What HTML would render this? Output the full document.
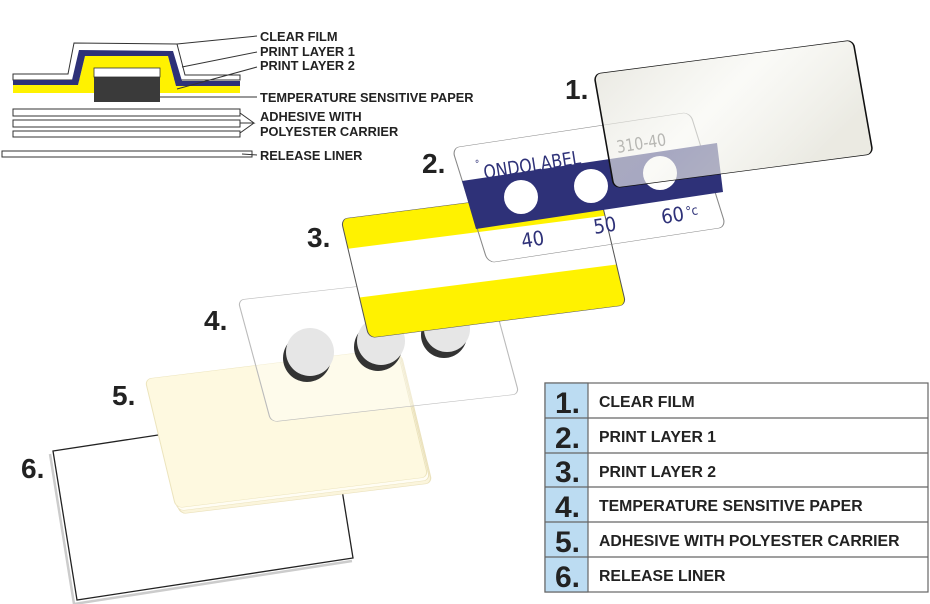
<!DOCTYPE html>
<html><head><meta charset="utf-8"><style>
html,body{margin:0;padding:0;background:#fff;width:930px;height:604px;overflow:hidden}
svg{display:block}
text{font-family:"Liberation Sans",Arial,sans-serif}
.lb{font-weight:bold;font-size:12.8px;fill:#222}
.num{font-weight:bold;font-size:28px;fill:#222}
.tn{font-weight:bold;font-size:30px;fill:#222}
.tl{font-weight:bold;font-size:15.8px;fill:#222}
.ol{font-family:"DejaVu Sans Condensed","Liberation Sans Narrow","Liberation Sans",sans-serif;fill:#2e3178}
</style></head><body>
<svg width="930" height="604" viewBox="0 0 930 604">
<defs>
<linearGradient id="g1" x1="0" y1="0" x2="1" y2="0.6">
<stop offset="0" stop-color="#e2e1d8" stop-opacity="0.7"/>
<stop offset="0.5" stop-color="#f7f7f2" stop-opacity="0.6"/>
<stop offset="1" stop-color="#e4e3d9" stop-opacity="0.75"/>
</linearGradient>
<clipPath id="c3" clipPathUnits="userSpaceOnUse"><rect x="0" y="0" width="100" height="100" rx="2.5" ry="6"/></clipPath>
</defs>
<!-- cross section -->
<path d="M13,74 L68,74 L74,43 L177,44 L185,75 L240,75 L240,80 L13,80 Z" fill="#fff" stroke="#333" stroke-width="1"/>
<path d="M13,85 L78,85 L85,56 L168,56 L176,86 L240,86 L240,93 L13,93 Z" fill="#fff200"/>
<path d="M13,80 L72,80 L79,50 L173,51 L182,81 L240,81 L240,86 L176,86 L168,56 L85,56 L78,85 L13,85 Z" fill="#2e3178"/>
<rect x="94" y="77" width="66" height="25" fill="#3a3a3a"/>
<rect x="94" y="68" width="66" height="9" fill="#fff" stroke="#333" stroke-width="0.8"/>
<rect x="13" y="109" width="227" height="7" fill="#fff" stroke="#333"/>
<rect x="13" y="120" width="227" height="7" fill="#fff" stroke="#333"/>
<rect x="13" y="131" width="227" height="6" fill="#fff" stroke="#333"/>
<rect x="2" y="151" width="250" height="6" fill="#fff" stroke="#333"/>
<g stroke="#333" stroke-width="1" fill="none">
<line x1="177" y1="44" x2="257" y2="36"/>
<line x1="182" y1="67" x2="257" y2="52"/>
<line x1="177" y1="89" x2="257" y2="67"/>
<line x1="160" y1="97" x2="257" y2="97"/>
<polyline points="240,113 254,123 240,123"/>
<polyline points="240,133 254,123"/>
<line x1="242" y1="154" x2="257" y2="155"/>
</g>
<text class="lb" x="260" y="41">CLEAR FILM</text>
<text class="lb" x="260" y="56">PRINT LAYER 1</text>
<text class="lb" x="260" y="70">PRINT LAYER 2</text>
<text class="lb" x="260" y="102">TEMPERATURE SENSITIVE PAPER</text>
<text class="lb" x="260" y="121">ADHESIVE WITH</text>
<text class="lb" x="260" y="136">POLYESTER CARRIER</text>
<text class="lb" x="260" y="160">RELEASE LINER</text>

<!-- card 6 -->
<polyline points="50,454 74,604 352,561" fill="none" stroke="#ccc" stroke-width="2.5"/>
<polygon points="53,451 329,409 353,558 77,600" fill="#fff" stroke="#222" stroke-width="1.3"/>
<!-- card 5 stack -->
<g transform="matrix(2.52,-0.31,0.31,1.29,149,385)"><rect width="100" height="100" rx="2.5" ry="5" fill="#fbf5dc" stroke="#ebe2bd" stroke-width="0.5"/></g>
<g transform="matrix(2.52,-0.31,0.31,1.29,147,382)"><rect width="100" height="100" rx="2.5" ry="5" fill="#fffdf3" stroke="#ebe2bd" stroke-width="0.4"/></g>
<g transform="matrix(2.52,-0.31,0.31,1.29,145,379)"><rect width="100" height="100" rx="2.5" ry="5" fill="#fef9e0" stroke="#ece4bd" stroke-width="0.4"/></g>
<!-- card 4 -->
<g transform="matrix(2.48,-0.28,0.33,1.22,238,300)"><rect width="100" height="100" rx="2.5" ry="5" fill="rgba(255,255,255,0.35)" stroke="#bbb" stroke-width="0.45"/></g>
<circle cx="307" cy="358" r="24" fill="#333"/><circle cx="310" cy="352" r="24" fill="#e6e6e6"/>
<circle cx="378" cy="347" r="24" fill="#333"/><circle cx="381" cy="341" r="24" fill="#e6e6e6"/>
<circle cx="444" cy="335" r="23" fill="#333"/><circle cx="447" cy="329" r="23" fill="#e6e6e6"/>
<!-- card 3 -->
<g transform="matrix(2.57,-0.33,0.28,1.19,341,219)">
<g clip-path="url(#c3)">
<rect width="100" height="100" fill="#fff"/>
<rect width="100" height="25" fill="#fff200"/>
<rect y="66" width="100" height="34" fill="#fff200"/>
</g>
<rect width="100" height="100" rx="2.5" ry="6" fill="none" stroke="#555" stroke-width="0.4"/>
</g>
<!-- card 2 -->
<g transform="matrix(2.38,-0.36,0.36,1.15,452,148)"><rect width="100" height="100" rx="3" ry="7" fill="none" stroke="#888" stroke-width="0.45"/></g>
<polygon points="462,181 717,143 723,192 476,229" fill="#2e3178"/>
<circle cx="521" cy="197" r="17" fill="#fff"/>
<circle cx="591" cy="186" r="17" fill="#fff"/>
<circle cx="660" cy="173" r="17" fill="#fff"/>
<g transform="rotate(-9 485 175)"><text class="ol" x="484" y="179" font-size="19" textLength="98" lengthAdjust="spacingAndGlyphs">ONDOLABEL</text><text class="ol" x="477" y="166" font-size="10">°</text></g>
<g transform="rotate(-9 617 150)"><text class="ol" x="617" y="153" font-size="17" style="fill:#555" textLength="50" lengthAdjust="spacingAndGlyphs">310-40</text></g>
<g transform="rotate(-9 522 245)"><text class="ol" x="522" y="248" font-size="20">40</text></g>
<g transform="rotate(-9 594 230)"><text class="ol" x="594" y="234" font-size="20">50</text></g>
<g transform="rotate(-9 662 222)"><text class="ol" x="662" y="224" font-size="20">60</text><text class="ol" x="687" y="220" font-size="13">°c</text></g>
<!-- card 1 -->
<g transform="matrix(2.59,-0.34,0.20,1.14,594,74)"><rect width="100" height="100" rx="2.5" ry="6" fill="url(#g1)" stroke="#111" stroke-width="0.6"/></g>
<!-- numbers -->
<text class="num" x="565" y="99">1.</text>
<text class="num" x="422" y="173">2.</text>
<text class="num" x="307" y="247">3.</text>
<text class="num" x="204" y="330">4.</text>
<text class="num" x="112" y="405">5.</text>
<text class="num" x="21" y="478">6.</text>
<!-- table -->
<g stroke="#666" stroke-width="1.2">
<rect x="545" y="383" width="383" height="209" fill="#fff"/>
<rect x="545" y="383" width="43" height="209" fill="#bcdcf2"/>
<line x1="545" y1="418" x2="928" y2="418"/>
<line x1="545" y1="453" x2="928" y2="453"/>
<line x1="545" y1="487" x2="928" y2="487"/>
<line x1="545" y1="522" x2="928" y2="522"/>
<line x1="545" y1="557" x2="928" y2="557"/>
</g>
<text class="tn" x="555" y="413">1.</text>
<text class="tn" x="555" y="448">2.</text>
<text class="tn" x="555" y="482">3.</text>
<text class="tn" x="555" y="517">4.</text>
<text class="tn" x="555" y="552">5.</text>
<text class="tn" x="555" y="587">6.</text>
<text class="tl" x="599" y="407">CLEAR FILM</text>
<text class="tl" x="599" y="442">PRINT LAYER 1</text>
<text class="tl" x="599" y="477">PRINT LAYER 2</text>
<text class="tl" x="599" y="511">TEMPERATURE SENSITIVE PAPER</text>
<text class="tl" x="599" y="546">ADHESIVE WITH POLYESTER CARRIER</text>
<text class="tl" x="599" y="581">RELEASE LINER</text>
</svg>
</body></html>
